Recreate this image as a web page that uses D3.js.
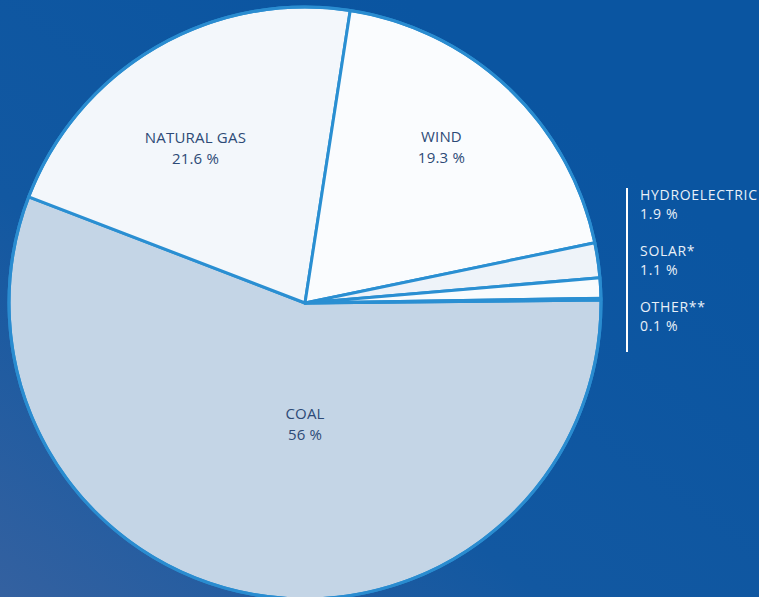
<!DOCTYPE html>
<html><head><meta charset="utf-8">
<script src="https://cdn.jsdelivr.net/npm/d3@7"></script>
<style>html,body{margin:0;padding:0;overflow:hidden;background:#0b56a1}</style>
</head><body>
<svg id="chart" width="759" height="597"></svg>
<script>
const categories = ["COAL", "NATURAL GAS", "WIND", "HYDROELECTRIC", "SOLAR*", "OTHER**"];
const values = [56, 21.6, 19.3, 1.9, 1.1, 0.1];
const valueLabels = ["56 %", "21.6 %", "19.3 %", "1.9 %", "1.1 %", "0.1 %"];
const fills = ["#c4d5e6", "#f3f7fb", "#fafcfe", "#eef3f9", "#f8fbfd", "#f8fbfd"];

const svg = d3.select("#chart");
const W = 759, H = 597;
const defs = svg.append("defs");
const grad = defs.append("linearGradient").attr("id", "bg")
  .attr("x1", "0").attr("y1", "1").attr("x2", "0.75").attr("y2", "0.2");
grad.append("stop").attr("offset", "0").attr("stop-color", "#3461a0");
grad.append("stop").attr("offset", "0.45").attr("stop-color", "#1258a1");
grad.append("stop").attr("offset", "1").attr("stop-color", "#0a55a1");
svg.append("rect").attr("width", W).attr("height", H).attr("fill", "url(#bg)");

const cx = 305, cy = 303, R = 296;
const g = svg.append("g").attr("transform", `translate(${cx},${cy})`);

const start = Math.PI / 2 - 0.01;
const pie = d3.pie().sort(null).value(d => d)
  .startAngle(start).endAngle(start + 2 * Math.PI);
const arcs = pie(values);
const arc = d3.arc().innerRadius(0).outerRadius(R);

g.selectAll("path.slice").data(arcs).join("path")
  .attr("class", "slice")
  .attr("d", arc)
  .attr("fill", (d, i) => fills[i])
  .attr("stroke", "#2a8fd2")
  .attr("stroke-width", 3)
  .attr("stroke-linejoin", "round");

g.append("circle").attr("r", R).attr("fill", "none")
  .attr("stroke", "#2a8cd0").attr("stroke-width", 3);

// in-slice labels: angle (deg, clockwise from top) and radius for the first three slices
const labelPlace = [[180, 120], [-35, 191], [41, 208]];
const txtColor = "#2d4a76";
labelPlace.forEach((p, i) => {
  const a = p[0] * Math.PI / 180;
  const x = Math.sin(a) * p[1], y = -Math.cos(a) * p[1];
  const t = g.append("text").attr("x", x).attr("y", y)
    .attr("text-anchor", "middle").attr("fill", txtColor)
    .attr("font-family", "'Open Sans', sans-serif").attr("font-size", 15)
    .attr("letter-spacing", 0.2);
  t.append("tspan").attr("x", x).attr("dy", "-0.25em").text(categories[i]);
  t.append("tspan").attr("x", x).attr("dy", 21).text(valueLabels[i]);
});

// side legend for small slices
const legendX = 640, legendY0 = 200, legendStep = 56;
svg.append("line").attr("x1", 627).attr("x2", 627).attr("y1", 188).attr("y2", 352)
  .attr("stroke", "#ffffff").attr("stroke-width", 2);
[3, 4, 5].forEach((idx, k) => {
  const y = legendY0 + k * legendStep;
  const t = svg.append("text").attr("x", legendX).attr("y", y)
    .attr("fill", "#e9f0f8").attr("font-family", "'Open Sans', sans-serif").attr("font-size", 14)
    .attr("letter-spacing", 0.7);
  t.append("tspan").attr("x", legendX).text(categories[idx]);
  t.append("tspan").attr("x", legendX).attr("dy", 19).text(valueLabels[idx]);
});
</script>
</body></html>
